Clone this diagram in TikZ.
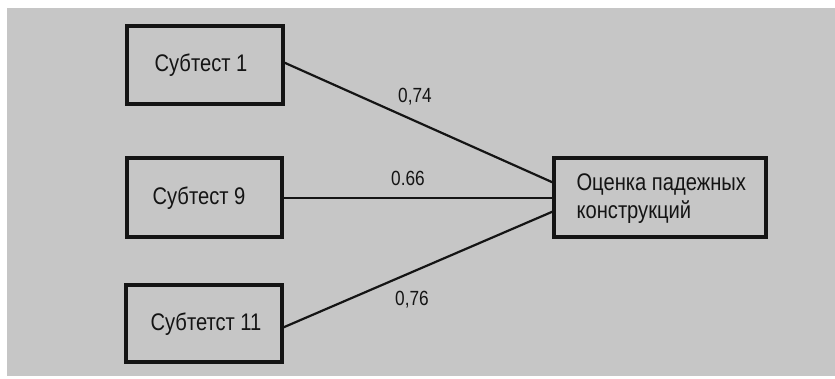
\documentclass[tikz,border=0pt]{standalone}
\usepackage{fontspec}
\setmainfont{Liberation Sans}[FakeStretch=0.84]
\definecolor{paper}{HTML}{C6C6C6}
\definecolor{ink}{HTML}{141414}
\begin{document}
\begin{tikzpicture}[x=1pt,y=-1pt,
  boxstyle/.style={draw=ink,line width=3.2pt,inner sep=0pt},
  linkstyle/.style={draw=ink,line width=2.2pt},
  lbl/.style={font=\fontsize{20.5}{20.5}\selectfont,text=ink},
  txt/.style={font=\fontsize{24}{24}\selectfont,text=ink}]
  % page and grey field
  \fill[white] (0,0) rectangle (835,378);
  \fill[paper] (7,8) rectangle (835,376);
  \useasboundingbox (0,0) rectangle (835,378);

  % source boxes
  \node[boxstyle,minimum width=156pt,minimum height=78pt] (s1) at (205,65) {};
  \node[boxstyle,minimum width=155pt,minimum height=79pt] (s9) at (204.5,197.5) {};
  \node[boxstyle,minimum width=156pt,minimum height=77pt] (s11) at (204,323.5) {};
  \node[txt] (t1) at (201,65) {Субтест 1};
  \node[txt] (t9) at (199,198) {Субтест 9};
  \node[txt] (t11) at (206,324) {Субтетст 11};

  % target box
  \node[boxstyle,minimum width=212pt,minimum height=79pt] (tg) at (660,197.5) {};
  \node[txt,anchor=west,align=left] (tt) at (573,199)
    {Оценка падежных\\[4pt]конструкций};

  % connection points on the box sides
  \coordinate (a1) at (283,62);
  \coordinate (a9) at (282,198);
  \coordinate (a11) at (282,328);
  \coordinate (b1) at (554,183);
  \coordinate (b9) at (554,198);
  \coordinate (b11) at (554,211);

  \draw[linkstyle] (a1) -- (b1);
  \draw[linkstyle] (a9) -- (b9);
  \draw[linkstyle] (a11) -- (b11);

  % path coefficients
  \node[lbl] (c1) at (415,97) {0,74};
  \node[lbl] (c9) at (408,178) {0.66};
  \node[lbl] (c11) at (412,300) {0,76};
\end{tikzpicture}
\end{document}
